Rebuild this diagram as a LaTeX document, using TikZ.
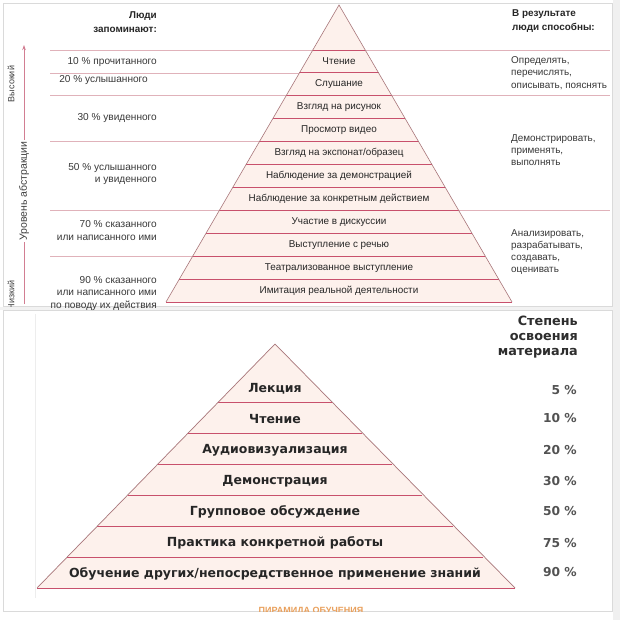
\documentclass[tikz,border=0pt]{standalone}
\usepackage{fontspec}
\setmainfont{Liberation Sans}
\newfontfamily\widesans{DejaVu Sans}
\usetikzlibrary{arrows.meta}
\definecolor{pyrfill}{HTML}{FDF1EC}
\definecolor{pyrline}{HTML}{C8506C}
\definecolor{pyredge}{HTML}{A8767A}
\definecolor{sepline}{HTML}{E0B2BA}
\definecolor{axisline}{HTML}{D27E92}
\definecolor{frameg}{HTML}{DADADA}
\definecolor{captcol}{HTML}{E9A05C}

\begin{document}
\begin{tikzpicture}[
    x=1pt, y=-1pt,
    >=Stealth,
    lvl/.style={font=\fontsize{9.9}{11}\selectfont, text=black!85},
    lefttxt/.style={anchor=east, align=right, inner sep=0pt,
                    font=\fontsize{10.1}{12.2}\selectfont, text=black!78},
    righttxt/.style={anchor=west, align=left, inner sep=0pt,
                     font=\fontsize{9.9}{12.2}\selectfont, text=black!78},
    headtxt/.style={inner sep=0pt, font=\bfseries\fontsize{9.9}{13.5}\selectfont,
                    text=black!85},
    axtxt/.style={rotate=90, inner sep=1pt, text=black!75},
    blvl/.style={font=\widesans\bfseries\fontsize{12.5}{14}\selectfont, text=black!85},
    pct/.style={anchor=east, inner sep=0pt,
                font=\widesans\bfseries\fontsize{12.3}{14}\selectfont, text=black!68},
]
\useasboundingbox (0,0) rectangle (620,620);
\fill[white] (0,0) rectangle (620,620);
\fill[black!6] (613,0) rectangle (620,620);
\fill[black!5] (0,306.5) rectangle (613,310);
\draw[frameg] (3,3) rectangle (612.5,306.5);
\draw[frameg] (3,310) rectangle (612.5,611.5);
\draw[black!7] (35,314) -- (35,598);

\coordinate (topA) at (339,5);
\coordinate (topL) at (166,302);
\coordinate (topR) at (512,302);
\fill[pyrfill] (topA) -- (topL) -- (topR) -- cycle;
\foreach \y in {50,72.9,95.8,141.6,210.3,256}
    \draw[sepline, line width=0.7pt] (50,\y) -- ({339-0.5825*(\y-5)},\y);
\foreach \y in {50,95.8,210.3}
    \draw[sepline, line width=0.7pt] ({339+0.5825*(\y-5)},\y) -- (610,\y);
\foreach \txt [count=\i from 0] in {Чтение, Слушание, Взгляд на рисунок,
        Просмотр видео, Взгляд на экспонат/образец, Наблюдение за демонстрацией,
        Наблюдение за конкретным действием, Участие в дискуссии,
        Выступление с речью, Театрализованное выступление,
        Имитация реальной деятельности} {
    \pgfmathsetmacro{\ya}{50+\i*22.9}
    \pgfmathsetmacro{\hw}{0.5825*(\ya-5)}
    \draw[pyrline, line width=0.8pt] ({339-\hw},\ya) -- ({339+\hw},\ya);
    \node[lvl] (up\i) at (339,\ya+11.6) {\txt};
}
\draw[pyrline, line width=0.8pt] (topL) -- (topR);
\draw[pyredge, line width=0.6pt] (topL) -- (topA) -- (topR);

\node[headtxt, anchor=east, align=right] (memhead) at (157,22) {Люди\\запоминают:};
\node[headtxt, anchor=west, align=left] (abilhead) at (512,21) {В результате\\люди способны:};
\node[lefttxt] (mem10) at (157,62) {10 \% прочитанного};
\node[lefttxt] (mem20) at (148,80) {20 \% услышанного};
\node[lefttxt] (mem30) at (157,118) {30 \% увиденного};
\node[lefttxt] (mem50) at (157,174) {50 \% услышанного\\и увиденного};
\node[lefttxt] (mem70) at (157,230.5) {70 \% сказанного\\или написанного ими};
\node[lefttxt] (mem90) at (157,293.5) {90 \% сказанного\\или написанного ими\\по поводу их действия};
\node[righttxt] (abil1) at (511,73) {Определять,\\перечислять,\\описывать, пояснять};
\node[righttxt] (abil2) at (511,150) {Демонстрировать,\\применять,\\выполнять};
\node[righttxt] (abil3) at (511,252) {Анализировать,\\разрабатывать,\\создавать,\\оценивать};

\coordinate (axlo) at (24,304);
\coordinate (axhi) at (24,45);
\draw[axisline, line width=0.8pt, -{Stealth[length=5pt, width=3.5pt]}] (axlo) -- (axhi);
\node[axtxt, fill=white, font=\fontsize{10.5}{12}\selectfont] (axname) at (24,191) {Уровень абстракции};
\node[axtxt, font=\fontsize{9}{10}\selectfont] (axhigh) at (11,84) {Высокий};
\begin{scope}
    \clip (0,0) rectangle (612,306);
    \node[axtxt, font=\fontsize{9}{10}\selectfont] (axlow) at (11,295.5) {Низкий};
\end{scope}

\coordinate (botA) at (275,344);
\coordinate (botL) at (37,588);
\coordinate (botR) at (515,588);
\fill[pyrfill] (botA) -- (botL) -- (botR) -- cycle;
\foreach \y in {402,433,464,495,526,557} {
    \pgfmathsetmacro{\hw}{0.9754*(\y-344)}
    \draw[pyrline, line width=1pt] ({275-\hw},\y) -- ({275+\hw},\y);
}
\draw[pyrline, line width=1pt] (botL) -- (botR);
\draw[pyredge, line width=0.7pt] (botL) -- (botA) -- (botR);
\foreach \txt/\y [count=\i] in {Лекция/389, Чтение/419, Аудиовизуализация/450,
        Демонстрация/481, Групповое обсуждение/512, Практика конкретной работы/543,
        {Обучение других/непосредственное применение знаний}/574}
    \node[blvl] (low\i) at (275,\y) {\txt};

\node[anchor=east, align=right, inner sep=0pt, text=black!82,
      font=\widesans\bfseries\fontsize{12.8}{15}\selectfont] (degree) at (578,337)
      {Степень\\освоения\\материала};
\foreach \p/\y [count=\i] in {5/390, 10/418, 20/450, 30/481, 50/511, 75/543, 90/572}
    \node[pct] (pct\i) at (577,\y) {\p\ \%};

\begin{scope}
    \clip (0,0) rectangle (612,611.5);
    \node[anchor=north, inner sep=0pt, text=captcol,
          font=\bfseries\fontsize{9}{10}\selectfont] (caption) at (311,607.5) {ПИРАМИДА ОБУЧЕНИЯ};
\end{scope}
\end{tikzpicture}
\end{document}
